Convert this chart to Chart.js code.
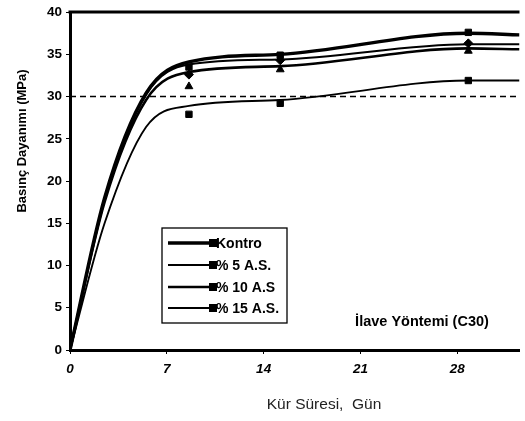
<!DOCTYPE html>
<html>
<head>
<meta charset="utf-8">
<script src="https://cdn.jsdelivr.net/npm/chart.js@4"></script>
<style>
  html,body{margin:0;padding:0;background:#fff;}
  #wrap{width:525px;height:421px;position:relative;}
</style>
</head>
<body>
<div id="wrap"><canvas id="chart" width="525" height="421"></canvas></div>
<script>
// --------- DATA ----------
const days = [0, 2.5, 5.5, 8.6, 15.2, 28.8, 32.5];
const kontrol = [0, 18.0, 30.4, 34.1, 35.0, 37.5, 37.3];
const as5     = [0, 17.8, 30.2, 33.8, 34.4, 36.2, 36.2];
const as10    = [0, 17.5, 29.6, 32.9, 33.6, 35.7, 35.6];
const as15    = [0, 15.0, 26.4, 28.9, 29.6, 31.9, 31.9];

const markerDays = [8.6, 15.2, 28.8];
const kontrolPts = [33.5, 34.9, 37.6];
const as5Pts     = [32.6, 34.3, 36.3];
const as10Pts    = [31.2, 33.2, 35.4];
const as15Pts    = [27.9, 29.2, 31.9];

const targetDays = [0, 32.5];
const target = [30, 30];

const xTicks = [0, 7, 14, 21, 28];
const labels = ['Kontro', '% 5 A.S.', '% 10 A.S', '% 15 A.S.'];

// --------- HELPERS ----------
const pts = (xs, ys) => xs.map((x, i) => ({x, y: ys[i]}));

const styles = [
  {w: 3.4, pt: 'rect'},
  {w: 2,   pt: 'rectRot'},
  {w: 2.6, pt: 'triangle'},
  {w: 1.9, pt: 'rect'}
];

const lineSets = [kontrol, as5, as10, as15].map((s, i) => ({
  label: labels[i],
  data: pts(days, s),
  showLine: true,
  borderColor: '#000',
  borderWidth: styles[i].w,
  pointRadius: 0,
  cubicInterpolationMode: 'monotone'
}));

const markerSets = [kontrolPts, as5Pts, as10Pts, as15Pts].map((s, i) => ({
  label: labels[i] + ' veri',
  data: pts(markerDays, s),
  showLine: false,
  pointStyle: styles[i].pt,
  pointRadius: 4.5,
  backgroundColor: '#000',
  borderColor: '#000'
}));

const targetSet = {
  label: 'C30',
  data: pts(targetDays, target),
  showLine: true,
  borderColor: '#000',
  borderWidth: 1.5,
  borderDash: [6, 4],
  pointRadius: 0
};

// --------- EXTRAS (frame, titles, legend) ----------
const extras = {
  id: 'extras',
  afterDraw(chart){
    const {ctx, chartArea:a} = chart;
    ctx.save();
    // top frame
    ctx.strokeStyle = '#000';
    ctx.lineWidth = 3;
    ctx.beginPath();
    ctx.moveTo(a.left - 1.5, a.top);
    ctx.lineTo(a.right, a.top);
    ctx.stroke();

    // y title
    ctx.fillStyle = '#000';
    ctx.font = 'bold 13px "Liberation Sans", Arial, sans-serif';
    ctx.textAlign = 'center';
    ctx.textBaseline = 'middle';
    ctx.translate(22, 141);
    ctx.rotate(-Math.PI/2);
    ctx.fillText('Basınç Dayanımı (MPa)', 0, 0);
    ctx.setTransform(1,0,0,1,0,0);

    // x title
    ctx.fillStyle = '#222';
    ctx.font = '15.5px "Liberation Sans", Arial, sans-serif';
    ctx.fillText('Kür Süresi,  Gün', 324, 405);

    // note
    ctx.fillStyle = '#000';
    ctx.font = 'bold 14.5px "Liberation Sans", Arial, sans-serif';
    ctx.fillText('İlave Yöntemi (C30)', 422, 322);

    // legend box
    const bx = 162, by = 228, bw = 125, bh = 95;
    ctx.fillStyle = '#fff';
    ctx.fillRect(bx, by, bw, bh);
    ctx.lineWidth = 1.3;
    ctx.strokeStyle = '#000';
    ctx.strokeRect(bx, by, bw, bh);
    ctx.textAlign = 'left';
    ctx.font = 'bold 14px "Liberation Sans", Arial, sans-serif';
    const rows = [243, 265, 287, 308];
    labels.forEach((lab, i) => {
      const y = rows[i];
      ctx.lineWidth = styles[i].w;
      ctx.beginPath();
      ctx.moveTo(168, y);
      ctx.lineTo(212, y);
      ctx.stroke();
      ctx.fillStyle = '#000';
      ctx.fillRect(209, y - 4, 8, 8);
      ctx.fillText(lab, 216, y + 1);
    });
    ctx.restore();
  }
};

// --------- CHART ----------
const tickFont = {family: '"Liberation Sans", Arial, sans-serif', size: 13.5, weight: 'bold'};

new Chart(document.getElementById('chart'), {
  type: 'scatter',
  data: {datasets: [...lineSets, ...markerSets, targetSet]},
  options: {
    responsive: false,
    animation: false,
    layout: {padding: {top: 5, right: 0, left: 0, bottom: 0}},
    plugins: {legend: {display: false}, tooltip: {enabled: false}},
    scales: {
      x: {
        type: 'linear',
        min: 0, max: targetDays[1],
        afterBuildTicks: s => { s.ticks = xTicks.map(v => ({value: v})); },
        afterFit: s => { s.height = 71; },
        grid: {drawOnChartArea: false, drawTicks: true, tickLength: 4, color: '#000', lineWidth: 1},
        border: {color: '#000', width: 3},
        ticks: {color: '#000', font: {...tickFont, style: 'italic'}, padding: 7, maxRotation: 0}
      },
      y: {
        min: 0, max: 40,
        afterFit: s => { s.width = 70; },
        grid: {drawOnChartArea: false, drawTicks: true, tickLength: 4, color: '#000', lineWidth: 1},
        border: {color: '#000', width: 3},
        ticks: {stepSize: 5, color: '#000', font: tickFont, padding: 4}
      }
    }
  },
  plugins: [extras]
});
</script>
</body>
</html>
